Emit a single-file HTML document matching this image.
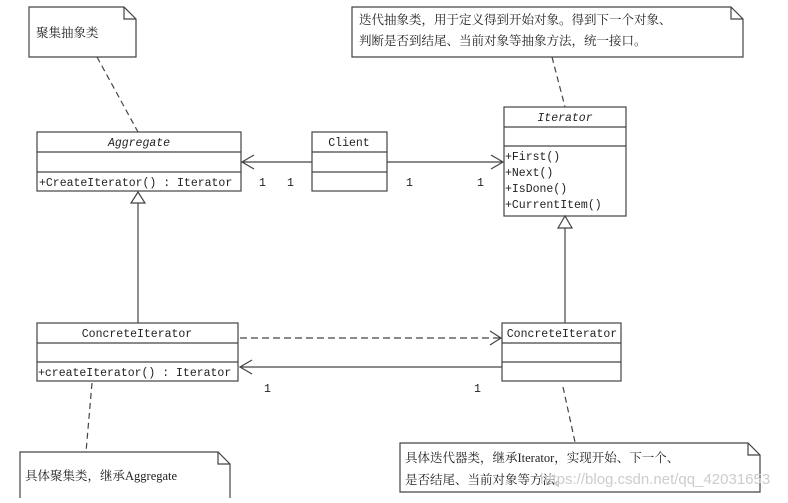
<!DOCTYPE html>
<html><head><meta charset="utf-8"><style>
body{margin:0;background:#fff}
svg text{font-family:"Liberation Mono","Noto Serif CJK SC",monospace;font-size:11.5px;fill:#222}
.cj{font-family:"Liberation Serif","Noto Serif CJK SC",serif;font-size:12.5px}
</style></head><body>
<svg width="788" height="498" viewBox="0 0 788 498" xmlns="http://www.w3.org/2000/svg">
<g fill="#fff" stroke="#444" stroke-width="1.2">
<!-- notes -->
<path d="M29 7H124L136 19V57H29Z"/><path d="M124 7V19H136" fill="none"/>
<path d="M352 7H731L743 19V57H352Z"/><path d="M731 7V19H743" fill="none"/>
<path d="M20 452H218L230 464V500H20Z"/><path d="M218 452V464H230" fill="none"/>
<path d="M400 443H748L760 455V492H400Z"/><path d="M748 443V455H760" fill="none"/>
<!-- classes -->
<rect x="37" y="132" width="204" height="59"/><path d="M37 152H241M37 172H241"/>
<rect x="312" y="132" width="75" height="59"/><path d="M312 152H387M312 172H387"/>
<rect x="504" y="107" width="122" height="109"/><path d="M504 127H626M504 146H626"/>
<rect x="37" y="323" width="201" height="58"/><path d="M37 343H238M37 362H238"/>
<rect x="502" y="323" width="119" height="58"/><path d="M502 343H621M502 362H621"/>
</g>
<g stroke="#444" stroke-width="1.2" fill="none">
<path d="M97 57L138 132M552 57L565 107M92 383L86 452M563 387L575 442" stroke-dasharray="6,4"/>
<path d="M312 162H242M254 155L242 162L254 169"/>
<path d="M387 162H503M491 155L503 162L491 169"/>
<path d="M138 203V323M565 228V323"/>
<path d="M138 192L131 203H145Z M565 216L558 228H572Z" fill="#fff"/>
<path d="M240 338H500" stroke-dasharray="7,4"/><path d="M490 331L501 338L490 345"/>
<path d="M502 367H240M252 360L240 367L252 374"/>
</g>
<text class="cj" x="36" y="37">聚集抽象类</text>
<text class="cj" x="359" y="24">迭代抽象类，用于定义得到开始对象。得到下一个对象、</text>
<text class="cj" x="359" y="45">判断是否到结尾、当前对象等抽象方法，统一接口。</text>
<text class="cj" x="25" y="480">具体聚集类，继承Aggregate</text>
<text class="cj" x="405" y="462">具体迭代器类，继承Iterator，实现开始、下一个、</text>
<text class="cj" x="405" y="484">是否结尾、当前对象等方法。</text>
<text x="540" y="484" style="font-family:'Liberation Sans',sans-serif;font-size:15px;fill:#ccc">https://blog.csdn.net/qq_42031653</text>
<text x="139" y="146" text-anchor="middle" font-style="italic">Aggregate</text>
<text x="39" y="186">+CreateIterator() : Iterator</text>
<text x="349" y="146" text-anchor="middle">Client</text>
<text x="565" y="121" text-anchor="middle" font-style="italic">Iterator</text>
<text x="505" y="160">+First()</text>
<text x="505" y="176">+Next()</text>
<text x="505" y="192">+IsDone()</text>
<text x="505" y="208">+CurrentItem()</text>
<text x="137" y="337" text-anchor="middle">ConcreteIterator</text>
<text x="38" y="376">+createIterator() : Iterator</text>
<text x="562" y="337" text-anchor="middle">ConcreteIterator</text>
<text x="259" y="186">1</text><text x="287" y="186">1</text>
<text x="406" y="186">1</text><text x="477" y="186">1</text>
<text x="264" y="392">1</text><text x="474" y="392">1</text>
</svg>
</body></html>
